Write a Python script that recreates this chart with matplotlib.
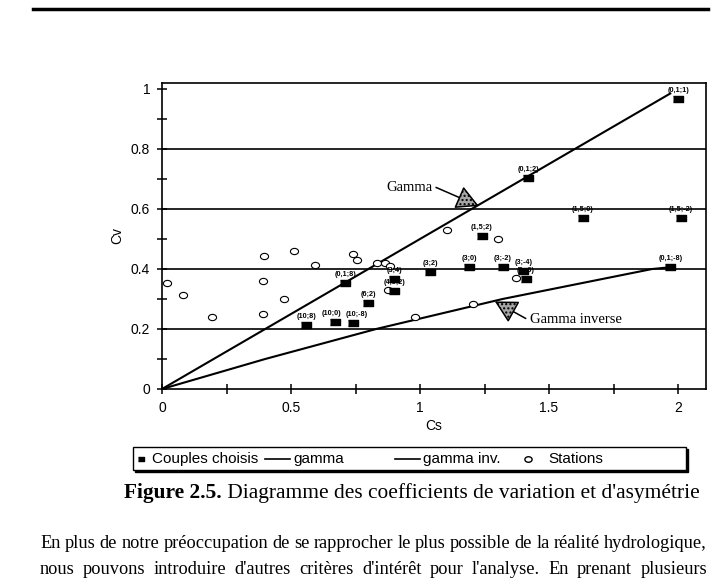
import numpy as np
import matplotlib.pyplot as plt
from matplotlib.lines import Line2D
from matplotlib.patches import Rectangle
from matplotlib.markers import MarkerStyle
from matplotlib.transforms import Affine2D
from matplotlib.ticker import MultipleLocator

# ---- données ----
# couples choisis (Cs, Cv)
couples_cs = [2.00, 1.42, 1.63, 2.01, 1.24, 1.04, 1.19, 1.32, 1.40, 1.41,
              1.97, 0.71, 0.90, 0.90, 0.80, 0.56, 0.67, 0.74]
couples_cv = [0.967, 0.704, 0.571, 0.571, 0.511, 0.391, 0.408, 0.408, 0.393, 0.367,
              0.408, 0.354, 0.367, 0.328, 0.286, 0.213, 0.224, 0.219]
couples_labels = ['(0,1;1)', '(0,1;2)', '(1,5;0)', '(1,5;-2)', '(1,5;2)', '(3;2)',
                  '(3;0)', '(3;-2)', '(3;-4)', '(3;-6)', '(0,1;-8)', '(0,1;8)',
                  '(3;4)', '(4,5;2)', '(6;2)', '(10;8)', '(10;0)', '(10;-8)']

# stations
stations_cs = [0.018, 0.083, 0.195, 0.394, 0.393, 0.393, 0.513, 0.471, 0.593, 0.741,
               0.757, 0.833, 0.866, 0.885, 0.877, 0.982, 1.103, 1.304, 1.372, 1.207]
stations_cv = [0.352, 0.312, 0.239, 0.442, 0.361, 0.251, 0.461, 0.300, 0.412, 0.450,
               0.430, 0.420, 0.419, 0.411, 0.330, 0.239, 0.530, 0.501, 0.371, 0.283]

# courbes théoriques
gamma_cs = [0.0, 1.97]
gamma_cv = [0.0, 0.985]
gamma_inv_cs = [0.0, 0.40, 0.83, 1.32, 1.90, 1.96]
gamma_inv_cv = [0.0, 0.10, 0.20, 0.30, 0.40, 0.405]

grid_levels = [0.2, 0.4, 0.6, 0.8]
x_ticks = [0, 0.5, 1, 1.5, 2]
x_ticklabels = ['0', '0.5', '1', '1.5', '2']
y_ticks = [0, 0.2, 0.4, 0.6, 0.8, 1]
y_ticklabels = ['0', '0.2', '0.4', '0.6', '0.8', '1']

legend_labels = ['Couples choisis', 'gamma', 'gamma inv.', 'Stations']

caption_bold = 'Figure 2.5.'
caption_rest = " Diagramme des coefficients de variation et d'asymétrie"
para_line1 = "En plus de notre préoccupation de se rapprocher le plus possible de la réalité hydrologique,"
para_line2 = "nous pouvons introduire d'autres critères d'intérêt pour l'analyse. En prenant plusieurs"

SANS = ['Liberation Sans', 'DejaVu Sans']
SERIF = ['Liberation Serif', 'DejaVu Serif']
NARROW = ['Liberation Sans Narrow', 'Liberation Sans', 'DejaVu Sans']

W, H = 720, 578
fig = plt.figure(figsize=(W / 100, H / 100), dpi=100)


def fx(px):
    return px / W


def fy(py):
    return 1 - py / H


ax = fig.add_axes([fx(162), fy(389), (706 - 162) / W, (389 - 83) / H])
ax.set_xlim(0, (706 - 162) / 258)
ax.set_ylim(0, 1.02)

for lvl in grid_levels:
    ax.axhline(lvl, color='black', lw=1.2, zorder=1)

ax.plot(gamma_cs, gamma_cv, color='black', lw=1.5, zorder=2)
ax.plot(gamma_inv_cs, gamma_inv_cv, color='black', lw=1.5, zorder=2)

rect = MarkerStyle([(-1.6, -1), (1.6, -1), (1.6, 1), (-1.6, 1)])
ellipse = MarkerStyle('o', transform=Affine2D().scale(1.3, 1.0))

ax.plot(couples_cs, couples_cv, ls='none', marker=rect, ms=6.5,
        mfc='black', mec='black', zorder=4)
ax.plot(stations_cs, stations_cv, ls='none', marker=ellipse, ms=4.5,
        mfc='white', mec='black', mew=0.8, zorder=3)

# petits décalages horizontaux pour les étiquettes serrées
label_nudge = {'(10;0)': -2.5, '(10;-8)': 2.5}
for cs, cv, lab in zip(couples_cs, couples_cv, couples_labels):
    ax.annotate(lab, (cs, cv), xytext=(label_nudge.get(lab, 0), 3.5),
                textcoords='offset points', ha='center', va='bottom',
                fontsize=5.2, fontweight='bold', family=NARROW, zorder=5)

# annotations des courbes
head = '-|>,head_length=1.4,head_width=0.75'
ax.annotate('', xy=(1.228, 0.610), xytext=(1.062, 0.672),
            arrowprops=dict(arrowstyle=head, fc='0.65', ec='black', lw=1.1,
                            hatch='....', shrinkA=0, shrinkB=0))
ax.text(1.05, 0.672, 'Gamma', family=SERIF, fontsize=10.5, ha='right', va='center')

ax.annotate('', xy=(1.29, 0.292), xytext=(1.41, 0.235),
            arrowprops=dict(arrowstyle=head, fc='0.65', ec='black', lw=1.1,
                            hatch='....', shrinkA=0, shrinkB=0))
ax.text(1.425, 0.233, 'Gamma inverse', family=SERIF, fontsize=10.5, ha='left', va='center')

ax.set_xticks(x_ticks)
ax.set_xticklabels(x_ticklabels)
ax.set_yticks(y_ticks)
ax.set_yticklabels(y_ticklabels)
ax.xaxis.set_minor_locator(MultipleLocator(0.25))
ax.yaxis.set_minor_locator(MultipleLocator(0.1))
ax.tick_params(which='both', direction='inout', length=7, width=1.1,
               top=False, right=False, pad=5, labelsize=10)
for lab in ax.get_xticklabels() + ax.get_yticklabels():
    lab.set_family(SANS)
for sp in ax.spines.values():
    sp.set_linewidth(1.2)

ax.set_xlabel('Cs', family=SANS, fontsize=10)
ax.set_ylabel('Cv', family=SANS, fontsize=10)
ax.xaxis.set_label_coords(0.5, -0.098)
ax.yaxis.set_label_coords(-0.07, 0.5)

# ---- légende dessinée à la main ----
lx0, lx1, ly0, ly1 = 133, 686, 447, 470
fig.add_artist(Rectangle((fx(lx0) + 2 / W, fy(ly1) - 2 / H), (lx1 - lx0) / W, (ly1 - ly0) / H,
                         transform=fig.transFigure, fc='black', ec='black', lw=1))
fig.add_artist(Rectangle((fx(lx0), fy(ly1)), (lx1 - lx0) / W, (ly1 - ly0) / H,
                         transform=fig.transFigure, fc='white', ec='black', lw=1))
ly = fy(459)
fig.add_artist(Line2D([fx(141)], [ly], marker=rect, ms=5, mfc='black', mec='black',
                      transform=fig.transFigure))
fig.add_artist(Line2D([fx(265), fx(290)], [ly, ly], color='black', lw=1.2,
                      transform=fig.transFigure))
fig.add_artist(Line2D([fx(395), fx(420)], [ly, ly], color='black', lw=1.2,
                      transform=fig.transFigure))
fig.add_artist(Line2D([fx(528)], [ly], marker=ellipse, ms=4, mfc='white', mec='black',
                      mew=1, transform=fig.transFigure))
for x_px, txt in zip([152, 293, 423, 548], legend_labels):
    fig.text(fx(x_px), ly, txt, family=SANS, fontsize=11, ha='left', va='center')

# ---- éléments de la page ----
fig.add_artist(Line2D([fx(33), fx(708)], [fy(9), fy(9)], color='black', lw=2.5,
                      transform=fig.transFigure))

renderer = fig.canvas.get_renderer()
t_bold = fig.text(fx(124), fy(493), caption_bold, family=SERIF, fontsize=15.4,
                  fontweight='bold', ha='left', va='center')
bb = t_bold.get_window_extent(renderer)
fig.text(bb.x1 / W, fy(493), caption_rest, family=SERIF, fontsize=15.4,
         ha='left', va='center')


def justified(line, x0, x1, y, size):
    words = line.split(' ')
    texts = [fig.text(0, fy(y), w, family=SERIF, fontsize=size, ha='left', va='center')
             for w in words]
    widths = [t.get_window_extent(renderer).width for t in texts]
    gap = (x1 - x0 - sum(widths)) / (len(words) - 1)
    x = x0
    for t, w in zip(texts, widths):
        t.set_x(fx(x))
        x += w + gap


justified(para_line1, 40, 707, 543, 13.2)
justified(para_line2, 40, 707, 570, 13.2)

fig.savefig('out.png', dpi=100)
